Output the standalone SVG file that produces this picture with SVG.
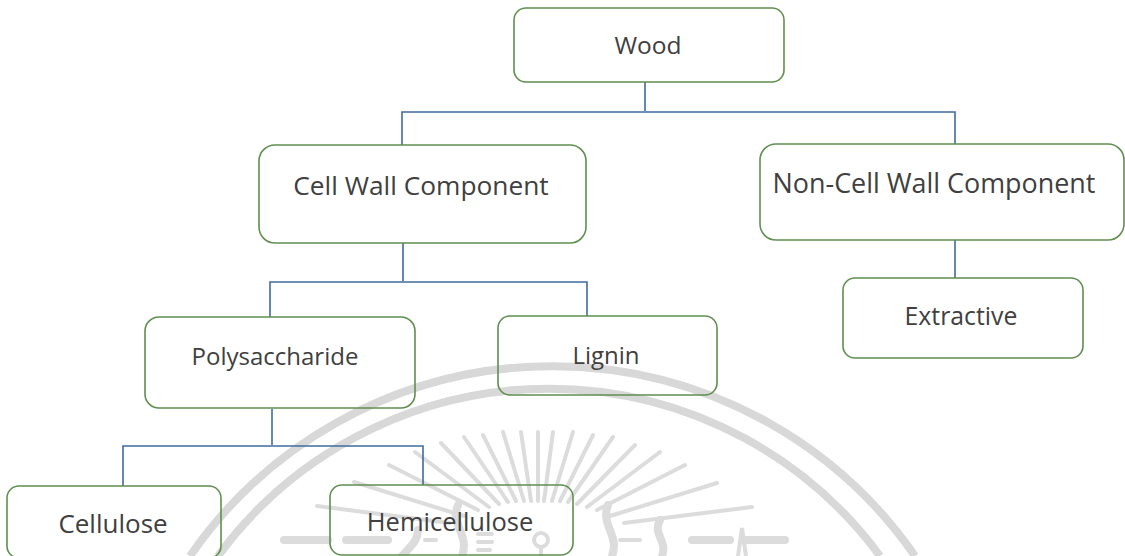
<svg xmlns="http://www.w3.org/2000/svg" width="1125" height="556" viewBox="0 0 1125 556">
<style>
.n{fill:none;stroke:#5f8f4e;stroke-width:1.6}
.t{font-family:"Open Sans","Noto Sans",sans-serif;fill:#404040;text-anchor:middle}
.c{fill:none;stroke:#3f6c9e;stroke-width:1.6}
.w{fill:none;stroke:#d8d8d8;stroke-width:8}
.r{fill:none;stroke:#dcdcdc;stroke-width:4;stroke-linecap:round}
.f{fill:none;stroke:#dcdcdc;stroke-width:8;stroke-linecap:round}
</style>
<rect width="1125" height="556" fill="#fff"/>
<g id="watermark">
<path class="w" d="M190 556A441 441 0 0 1 915 556"/>
<path class="w" d="M218 556A411 411 0 0 1 880 556"/>
<path class="r" d="M752 507L624 523M717 483L610 516M685 465L597 510M660 452L587 507M635 445L577 504M613 437L568 502M593 435L560 501M573 432L552 501M553 432L544 501M538 432L538 501M521 432L531 501M503 432L524 501M483 435L516 501M464 437L508 502M441 443L499 504M415 452L489 507M389 465L478 510M354 482L464 516M317 506L450 523"/>
<path class="f" d="M284 540H328M346 540H388M692 540H730M744 540H785"/>
<path class="f" d="M458 505C450 525 470 535 462 556M402 556C412 545 418 540 418 530M608 505C600 525 620 535 612 556M660 520C652 535 668 540 662 556"/>
<path class="r" d="M425 540H436M478 534H492M478 542H492M478 550H490M620 540H640"/>
<circle cx="541" cy="540" r="7" fill="none" stroke="#dcdcdc" stroke-width="4"/>
<path class="r" d="M541 547V556"/>
<path class="r" d="M738 556L742 528L746 556"/>
</g>
<g id="connectors">
<path class="c" d="M645 82V111M402 145V112H955V144"/>
<path class="c" d="M403 243V281M270 317V282H587V316"/>
<path class="c" d="M955 240V278"/>
<path class="c" d="M272 409V445M123 486V446H423V485"/>
</g>
<g id="wood"><rect class="n" x="514" y="8" width="270" height="74" rx="12"/><text class="t" x="648" y="54" font-size="24.5">Wood</text></g>
<g id="cell-wall"><rect class="n" x="259" y="145" width="327" height="98" rx="16"/><text class="t" x="421" y="195" font-size="26.3">Cell Wall Component</text></g>
<g id="non-cell-wall"><rect class="n" x="760" y="144" width="364" height="96" rx="16"/><text class="t" x="934" y="193" font-size="26.9">Non-Cell Wall Component</text></g>
<g id="polysaccharide"><rect class="n" x="145" y="317" width="270" height="91" rx="14"/><text class="t" x="275" y="365" font-size="24">Polysaccharide</text></g>
<g id="lignin"><rect class="n" x="498" y="316" width="219" height="79" rx="12"/><text class="t" x="606" y="364" font-size="24">Lignin</text></g>
<g id="extractive"><rect class="n" x="843" y="278" width="240" height="80" rx="12"/><text class="t" x="961" y="325" font-size="24.8">Extractive</text></g>
<g id="cellulose"><rect class="n" x="7" y="486" width="214" height="72" rx="12"/><text class="t" x="113" y="533" font-size="26">Cellulose</text></g>
<g id="hemicellulose"><rect class="n" x="330" y="485" width="243" height="70" rx="12"/><text class="t" x="450" y="531" font-size="25.5">Hemicellulose</text></g>
</svg>
